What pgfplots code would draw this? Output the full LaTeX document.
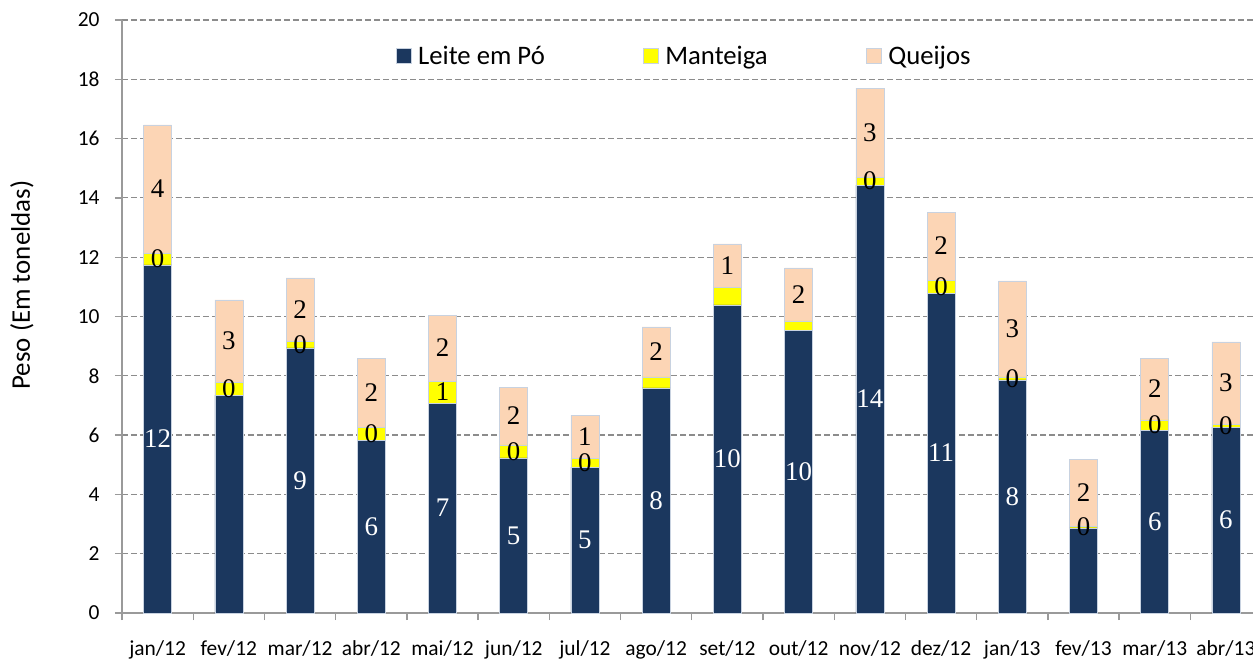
\documentclass[border=0pt]{standalone}
\usepackage{pgfplots}
\pgfplotsset{compat=1.18}
\usepackage{pgfplotstable}
\usepackage{fontspec}
\setmainfont{Carlito}
\newfontfamily\lblfont{Liberation Serif}
\definecolor{leite}{HTML}{1B375E}
\definecolor{mant}{HTML}{FFFF00}
\definecolor{queijo}{HTML}{FCD5B5}
\definecolor{gridc}{HTML}{8C8C8C}
\definecolor{axc}{HTML}{9A9A9A}
\definecolor{edgec}{HTML}{C8D2E0}

\pgfplotstableread{
x y lab
0 11.74 12
1 7.35 {}
2 8.94 9
3 5.83 6
4 7.08 7
5 5.23 5
6 4.92 5
7 7.59 8
8 10.39 10
9 9.54 10
10 14.43 14
11 10.79 11
12 7.86 8
13 2.87 {}
14 6.17 6
15 6.27 6
}\leitetab

\pgfplotstableread{
x y lab
0 0.40 0
1 0.44 0
2 0.23 0
3 0.44 0
4 0.74 1
5 0.44 0
6 0.30 0
7 0.37 {}
8 0.60 {}
9 0.31 {}
10 0.27 0
11 0.44 0
12 0.10 0
13 0.06 0
14 0.34 0
15 0.10 0
}\manttab

\pgfplotstableread{
x y lab
0 4.32 4
1 2.77 3
2 2.13 2
3 2.33 2
4 2.23 2
5 1.95 2
6 1.45 1
7 1.69 2
8 1.46 1
9 1.79 2
10 3.00 3
11 2.29 2
12 3.24 3
13 2.26 2
14 2.09 2
15 2.77 3
}\queijotab

\pgfplotsset{
  mybar/.style={fill=#1, draw=edgec, line width=0.6bp,
    point meta=explicit symbolic,
    nodes near coords={\pgfplotspointmeta},
    every node near coord/.append style={anchor=center, font=\lblfont\fontsize{27}{30}\selectfont}},
}

\begin{document}
\begin{tikzpicture}
\begin{axis}[
  name=ax,
  width=1131bp, height=593bp, scale only axis,
  ybar stacked, bar width=28bp,
  xmin=-0.5, xmax=15.38, ymin=0, ymax=20,
  ytick={0,2,...,20},
  xtick={0,...,15},
  xticklabels={jan/12,fev/12,mar/12,abr/12,mai/12,jun/12,jul/12,ago/12,set/12,out/12,nov/12,dez/12,jan/13,fev/13,mar/13,abr/13},
  minor xtick={-0.5,0.5,...,15.5},
  major x tick style={draw=none},
  minor x tick style={draw=axc, line width=1.3bp},
  y tick style={draw=axc, line width=1.3bp},
  major tick length=7bp, minor tick length=7bp,
  axis x line*=bottom, axis y line*=left,
  tick align=outside,
  axis line style={draw=axc, line width=1.3bp},
  ymajorgrids,
  grid style={draw=gridc, line width=1.2bp, dash pattern=on 6bp off 3bp},
  /pgf/number format/assume math mode=true,
  tick label style={font=\fontsize{21.5}{24}\selectfont},
  yticklabel style={xshift=-12bp},
  xticklabel style={yshift=-17.5bp},
  ylabel={Peso (Em toneldas)},
  ylabel style={at={(axis description cs:-0.0884,0.553)}, anchor=center, font=\fontsize{27}{30}\selectfont},
  legend style={at={(0.497,0.940)}, anchor=center, draw=none, fill=none,
    font=\fontsize{26.8}{30}\selectfont, legend columns=3,
    /tikz/every odd column/.append style={column sep=5bp},
    /tikz/column 2/.style={column sep=96bp},
    /tikz/column 4/.style={column sep=96bp}},
  legend image code/.code={\fill[#1] (0bp,-7.5bp) rectangle (15bp,7.5bp);},
]
\addplot+[mybar=leite, every node near coord/.append style={text=white}] table[x=x, y=y, meta=lab] {\leitetab};
\addlegendentry{Leite em Pó}
\addplot+[mybar=mant, every node near coord/.append style={text=black}] table[x=x, y=y, meta=lab] {\manttab};
\addlegendentry{Manteiga}
\addplot+[mybar=queijo, every node near coord/.append style={text=black}] table[x=x, y=y, meta=lab] {\queijotab};
\addlegendentry{Queijos}
\end{axis}
\pgfresetboundingbox
\path[use as bounding box] ([xshift=-122bp,yshift=-46bp]ax.south west) rectangle ([yshift=20bp]ax.north east);
\end{tikzpicture}
\end{document}
